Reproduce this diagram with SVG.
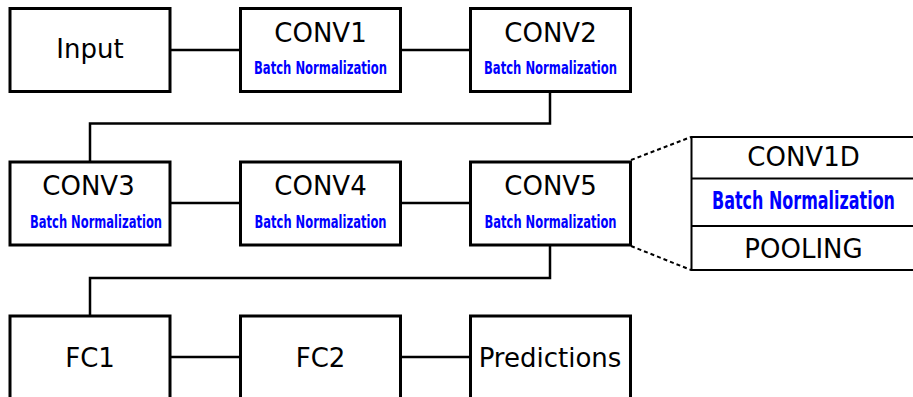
<svg xmlns="http://www.w3.org/2000/svg" width="913" height="397" viewBox="0 0 913 397">
<style>
.box{fill:#fff;stroke:#000;stroke-width:3}
.dbox{fill:#fff;stroke:#000;stroke-width:2}
.lbl{font-family:"DejaVu Sans",sans-serif;font-size:26px;fill:#000;text-anchor:middle}
.bn{font-family:"DejaVu Sans Condensed","DejaVu Sans",sans-serif;font-weight:bold;font-size:17px;fill:#0000ff;text-anchor:middle}
.bnl{font-family:"DejaVu Sans Condensed","DejaVu Sans",sans-serif;font-weight:bold;font-size:24px;fill:#0000ff;text-anchor:middle}
.ln{fill:none;stroke:#000;stroke-width:2.5}
.dash{fill:none;stroke:#000;stroke-width:2;stroke-dasharray:4 3}
</style>
<rect width="913" height="397" fill="#fff"/>
<g id="connectors">
<line class="ln" x1="170" y1="50" x2="240" y2="50"/>
<line class="ln" x1="400" y1="50" x2="470" y2="50"/>
<polyline class="ln" points="550,92 550,123.5 90,123.5 90,162"/>
<line class="ln" x1="170" y1="203" x2="240" y2="203"/>
<line class="ln" x1="400" y1="203" x2="470" y2="203"/>
<polyline class="ln" points="550,246 550,278 90,278 90,315"/>
<line class="ln" x1="170" y1="357" x2="240" y2="357"/>
<line class="ln" x1="400" y1="357" x2="470" y2="357"/>
<line class="dash" x1="631" y1="160" x2="691" y2="137"/>
<line class="dash" x1="631" y1="246" x2="691" y2="270"/>
</g>
<g id="input">
<rect class="box" x="10" y="8.5" width="160" height="83"/>
<text class="lbl" x="90" y="57.5">Input</text>
</g>
<g id="conv1">
<rect class="box" x="240.5" y="8.5" width="160" height="83"/>
<text class="lbl" x="320.5" y="41.5">CONV1</text>
<text class="bn" x="320.5" y="73.5" textLength="133" lengthAdjust="spacingAndGlyphs">Batch Normalization</text>
</g>
<g id="conv2">
<rect class="box" x="470.5" y="8.5" width="160" height="83"/>
<text class="lbl" x="550.5" y="41.5">CONV2</text>
<text class="bn" x="550.5" y="73.5" textLength="133" lengthAdjust="spacingAndGlyphs">Batch Normalization</text>
</g>
<g id="conv3">
<rect class="box" x="10" y="162" width="160" height="83"/>
<text class="lbl" x="88.5" y="195">CONV3</text>
<text class="bn" x="96" y="227.5" textLength="132" lengthAdjust="spacingAndGlyphs">Batch Normalization</text>
</g>
<g id="conv4">
<rect class="box" x="240.5" y="162" width="160" height="83"/>
<text class="lbl" x="320.5" y="195">CONV4</text>
<text class="bn" x="320.5" y="227.5" textLength="132" lengthAdjust="spacingAndGlyphs">Batch Normalization</text>
</g>
<g id="conv5">
<rect class="box" x="470.5" y="162" width="160" height="83"/>
<text class="lbl" x="550.5" y="195">CONV5</text>
<text class="bn" x="550.5" y="227.5" textLength="132" lengthAdjust="spacingAndGlyphs">Batch Normalization</text>
</g>
<g id="detail">
<rect class="dbox" x="691.5" y="137" width="240" height="133"/>
<line stroke="#000" stroke-width="2" x1="691.5" y1="178.5" x2="913" y2="178.5"/>
<line stroke="#000" stroke-width="2" x1="691.5" y1="226" x2="913" y2="226"/>
<text class="lbl" x="803.5" y="166">CONV1D</text>
<text class="bnl" transform="scale(0.74,1)" x="1085.8" y="209.5" textLength="247.3" lengthAdjust="spacingAndGlyphs">Batch Normalization</text>
<text class="lbl" x="803.5" y="257.5">POOLING</text>
</g>
<g id="fc1">
<rect class="box" x="10" y="316" width="160" height="84"/>
<text class="lbl" x="90" y="366.5">FC1</text>
</g>
<g id="fc2">
<rect class="box" x="240.5" y="316" width="160" height="84"/>
<text class="lbl" x="320.5" y="366.5">FC2</text>
</g>
<g id="predictions">
<rect class="box" x="470.5" y="316" width="160" height="84"/>
<text class="lbl" x="550" y="366.5">Predictions</text>
</g>
</svg>
